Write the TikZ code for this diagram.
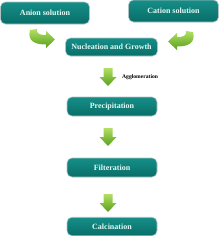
\documentclass[tikz,border=0pt]{standalone}
\usepackage{fontspec}
\setmainfont{Liberation Serif}
\usetikzlibrary{calc}
\definecolor{tealtop}{RGB}{22,142,136}
\definecolor{tealbot}{RGB}{8,110,104}
\definecolor{tealedge}{RGB}{175,195,195}
\definecolor{boxtext}{RGB}{228,250,246}
\definecolor{arrlight}{RGB}{178,224,100}
\definecolor{arrdark}{RGB}{88,158,28}
\tikzset{
  stepbox/.style={rounded corners=5pt, draw=tealedge, line width=0.6pt,
    top color=tealtop, bottom color=tealbot, text=boxtext,
    font=\fontsize{8}{9}\selectfont\bfseries, inner sep=0pt, anchor=center},
  greenarrow/.style={top color=arrlight, bottom color=arrdark, draw=none},
  pics/downarr/.style={code={
    \path[greenarrow] (-4.5,0) -- (4.5,0) -- (4.5,9) -- (8.5,9) -- (0,18) -- (-8.5,9) -- (-4.5,9) -- cycle;
  }}
}
\begin{document}
\begin{tikzpicture}[x=1pt,y=-1pt]
\useasboundingbox (0,0) rectangle (220,236);
% boxes
\node[stepbox, minimum width=89pt, minimum height=22pt] (anion) at (45,13) {Anion solution};
\node[stepbox, minimum width=90pt, minimum height=22pt] (cation) at (173.5,11) {Cation solution};
\node[stepbox, minimum width=92pt, minimum height=18pt] (nuc) at (111.5,47) {Nucleation and Growth};
\node[stepbox, minimum width=90pt, minimum height=19pt] (prec) at (112,106.5) {Precipitation};
\node[stepbox, minimum width=90pt, minimum height=19pt] (filt) at (112,167.5) {Filteration};
\node[stepbox, minimum width=90pt, minimum height=18.5pt] (calc) at (112,226.5) {Calcination};
% curved arrows
\path[greenarrow] (30,30) .. controls (27,41) and (35,44.5) .. (46,44.5) -- (46,48) -- (55,39.5) -- (46,31) -- (46,35) .. controls (40,35) and (36,34) .. (37,29) -- cycle;
\begin{scope}[xshift=223pt, xscale=-1, yshift=-2pt]
\path[greenarrow] (30,30) .. controls (27,41) and (35,44.5) .. (46,44.5) -- (46,48) -- (55,39.5) -- (46,31) -- (46,35) .. controls (40,35) and (36,34) .. (37,29) -- cycle;
\end{scope}
% down arrows
\coordinate (a1) at (108,68);
\coordinate (a2) at (108,128);
\coordinate (a3) at (108,194);
\pic at (a1) {downarr};
\pic at (a2) {downarr};
\pic at (a3) {downarr};
\node[font=\fontsize{5.6}{6}\selectfont\bfseries, anchor=west, inner sep=0pt] (agg) at (122,77) {Agglomeration};
\end{tikzpicture}
\end{document}
